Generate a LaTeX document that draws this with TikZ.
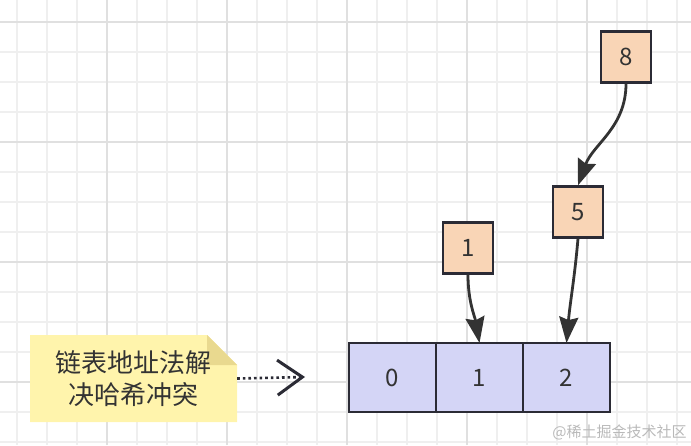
\documentclass[tikz,border=0pt]{standalone}
\usepackage{fontspec}
\newfontfamily\cjk{Noto Sans CJK SC}
\usetikzlibrary{positioning,arrows.meta}
\definecolor{cellfill}{HTML}{D4D5F6}
\definecolor{itemfill}{HTML}{F9D5B6}
\definecolor{notefill}{HTML}{FFF4AC}
\definecolor{foldfill}{HTML}{E9D98F}
\definecolor{edge}{HTML}{2B2B35}
\definecolor{ink}{HTML}{333333}
\definecolor{gridminor}{HTML}{EFEFEF}
\definecolor{gridmajor}{HTML}{E0E0E0}

\begin{document}
\begin{tikzpicture}[x=1pt,y=1pt,
  cell/.style={draw=edge,line width=2.2pt,fill=cellfill,minimum width=87pt,minimum height=69pt,
    inner sep=0pt,outer sep=0pt,text=ink,font=\cjk\fontsize{24}{24}\selectfont},
  item/.style={draw=edge,line width=2.2pt,fill=itemfill,minimum width=50pt,minimum height=51pt,
    inner sep=0pt,text=ink,font=\cjk\fontsize{24}{24}\selectfont},
  link/.style={draw=ink,line width=2.8pt,-{Stealth[length=26pt,width=19pt,inset=3pt]}}]
  \useasboundingbox (0,0) rectangle (691,445);
  % grid
  \foreach \i in {0,...,22}
    \draw[gridminor,line width=1.5pt] (17+30*\i,0) -- (17+30*\i,445);
  \foreach \j in {0,...,14}
    \draw[gridminor,line width=1.5pt] (0,423-30*\j) -- (691,423-30*\j);
  \foreach \i in {107,227,347,467,587}
    \draw[gridmajor,line width=2pt] (\i,0) -- (\i,445);
  \foreach \j in {423,303,183,63}
    \draw[gridmajor,line width=2pt] (0,\j) -- (691,\j);
  % note with folded corner
  \fill[notefill] (30,23) -- (30,110) -- (207,110) -- (237,80) -- (237,23) -- cycle;
  \fill[foldfill] (207,110) -- (237,80) -- (207,80) -- cycle;
  \node[minimum width=207pt,minimum height=87pt,align=center,text=ink,
    font=\cjk\fontsize{26}{32}\selectfont] (note) at (133.5,66.5) {链表地址法解\\决哈希冲突};
  % hash table
  \node[cell] (c0) at (392.5,67.5) {0};
  \node[cell,right=0pt of c0] (c1) {1};
  \node[cell,right=0pt of c1] (c2) {2};
  % chained entries
  \node[item] (b1) at (468,197) {1};
  \node[item] (b5) at (578,233) {5};
  \node[item] (b8) at (626,388) {8};
  \draw[link] (b1.south) to[out=-90,in=100] (c1.north);
  \draw[link] (b5.south) to[out=-95,in=85] (c2.north);
  \draw[link] (b8.south) to[out=-90,in=70] (b5.north);
  % dotted pointer
  \coordinate (dotsend) at (305,68);
  \draw[edge,line width=2.6pt,dash pattern=on 2.6pt off 3pt,
    -{Straight Barb[length=25pt,width=35pt,line width=3pt]}] (note.east) -- (dotsend);
  \node[text=gray!55,font=\cjk\fontsize{15}{15}\selectfont] (mark) at (619.5,13) {@稀土掘金技术社区};
\end{tikzpicture}
\end{document}
